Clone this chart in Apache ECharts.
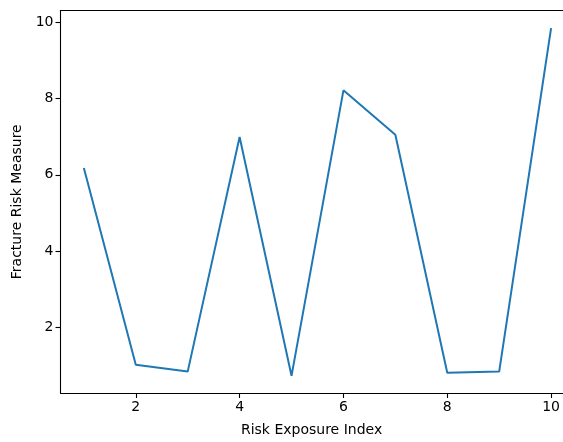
<!DOCTYPE html>
<html><head><meta charset="utf-8">
<script src="https://cdn.jsdelivr.net/npm/echarts@6/dist/echarts.min.js"></script>
<style>html,body{margin:0;padding:0;background:#fff}#c{width:563px;height:442px}</style>
</head><body><div id="c"></div>
<script>
const xValues = [1, 2, 3, 4, 5, 6, 7, 8, 9, 10];
const riskValues = [6.18, 1.03, 0.85, 6.99, 0.74, 8.21, 7.05, 0.82, 0.85, 9.84];
const xTicks = [2, 4, 6, 8, 10];
const yTicks = [2, 4, 6, 8, 10];
const xTitle = 'Risk Exposure Index';
const yTitle = 'Fracture Risk Measure';

const chart = echarts.init(document.getElementById('c'), null, {renderer: 'canvas'});
const font = 'DejaVu Sans';
const axisCol = '#000';
chart.setOption({
  animation: false,
  grid: {left: 60.5, top: 10.5, right: 0, bottom: 49, containLabel: false},
  xAxis: [{
    type: 'value', min: 0.55, max: 10.223,
    name: xTitle, nameLocation: 'middle', nameGap: 30,
    nameTextStyle: {fontFamily: font, fontSize: 14, color: '#000'},
    axisLine: {show: true, lineStyle: {color: axisCol, width: 1.1}},
    axisTick: {show: true, length: 5, inside: false, lineStyle: {color: axisCol, width: 1.1}, customValues: xTicks},
    axisLabel: {fontFamily: font, fontSize: 14, color: '#000', margin: 7, customValues: xTicks},
    splitLine: {show: false}
  }, {
    type: 'value', position: 'top', min: 0.55, max: 10.223,
    axisLine: {show: true, lineStyle: {color: axisCol, width: 1.1}},
    axisTick: {show: false}, axisLabel: {show: false}, splitLine: {show: false}
  }],
  yAxis: {
    type: 'value', min: 0.29, max: 10.3,
    name: yTitle, nameLocation: 'middle', nameGap: 35, nameRotate: 90,
    nameTextStyle: {fontFamily: font, fontSize: 14, color: '#000'},
    axisLine: {show: true, lineStyle: {color: axisCol, width: 1.1}},
    axisTick: {show: true, length: 5, lineStyle: {color: axisCol, width: 1.1}, customValues: yTicks},
    axisLabel: {fontFamily: font, fontSize: 14, color: '#000', margin: 7, customValues: yTicks},
    splitLine: {show: false}
  },
  series: [{
    type: 'line', xAxisIndex: 0,
    data: xValues.map((x, i) => [x, riskValues[i]]),
    showSymbol: false, symbol: 'none',
    lineStyle: {color: '#1f77b4', width: 2},
    clip: true
  }]
});
</script></body></html>
